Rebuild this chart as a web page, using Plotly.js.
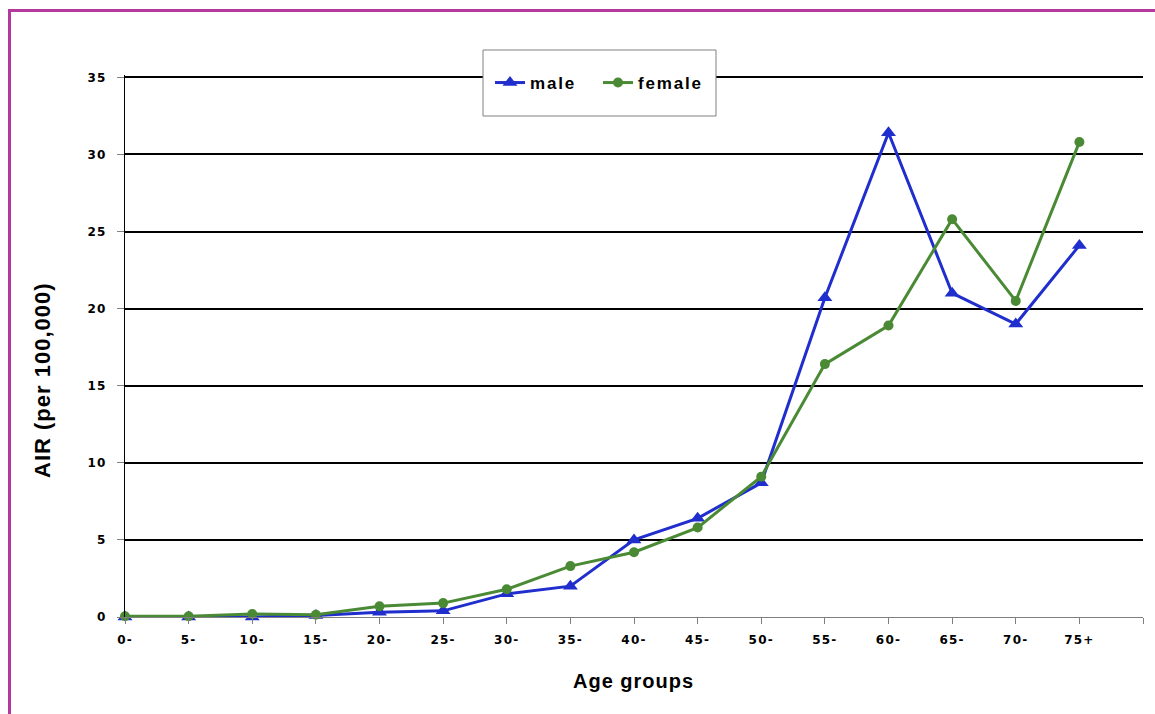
<!DOCTYPE html>
<html>
<head>
<meta charset="utf-8">
<script src="https://cdn.plot.ly/plotly-3.0.1.min.js"></script>
<style>
  html, body { margin: 0; padding: 0; background: #fff; }
  #wrap { position: relative; width: 1155px; height: 714px; overflow: hidden; }
  #chart { width: 1155px; height: 714px; }
  #frame { position: absolute; left: 8px; top: 9px; width: 1300px; height: 900px;
           border-left: 3px solid #b3399f; border-top: 3px solid #b3399f; pointer-events: none; }
  .legendtext { letter-spacing: 1.8px; }
  .xtick text, .ytick text { letter-spacing: 1.2px; }
  .annotation-text { letter-spacing: 1px; }
</style>
</head>
<body>
<div id="wrap">
  <div id="chart"></div>
  <div id="frame"></div>
</div>
<script>
// Data
var ageGroups = ["0-", "5-", "10-", "15-", "20-", "25-", "30-", "35-", "40-", "45-", "50-", "55-", "60-", "65-", "70-", "75+"];
var maleAIR   = [0, 0, 0, 0.1, 0.3, 0.4, 1.5, 2.0, 5.0, 6.4, 8.7, 20.7, 31.4, 21.0, 19.0, 24.1];
var femaleAIR = [0.05, 0.05, 0.2, 0.15, 0.7, 0.9, 1.8, 3.3, 4.2, 5.8, 9.1, 16.4, 18.9, 25.8, 20.5, 30.8];
var yTicks = [0, 5, 10, 15, 20, 25, 30, 35];

var idx = ageGroups.map(function (_, i) { return i; });
var tickVals = idx.concat([ageGroups.length]);
var tickText = ageGroups.concat([""]);

var blue = "#1f2ecc";
var green = "#4a8a35";

var traces = [
  {
    x: idx, y: maleAIR, name: "male", type: "scatter", mode: "lines+markers",
    line: { color: blue, width: 3 },
    marker: { symbol: "triangle-up", size: 13, color: blue },
    cliponaxis: false
  },
  {
    x: idx, y: femaleAIR, name: "female", type: "scatter", mode: "lines+markers",
    line: { color: green, width: 3 },
    marker: { symbol: "circle", size: 10, color: green },
    cliponaxis: false
  }
];

var W = 1155, H = 714;
var L = 125, R = 12, T = 75, B = 97;
var pw = W - L - R, ph = H - T - B;
function px2x(p) { return (p - L) / pw; }
function py2y(p) { return (H - B - p) / ph; }

var layout = {
  width: W, height: H,
  margin: { l: L, r: R, t: T, b: B, pad: 0 },
  paper_bgcolor: "#ffffff",
  plot_bgcolor: "#ffffff",
  font: { family: "DejaVu Sans, Verdana, sans-serif", color: "#000" },
  showlegend: true,
  legend: {
    orientation: "h",
    x: px2x(490), y: py2y(83), xanchor: "left", yanchor: "middle",
    bgcolor: "rgba(0,0,0,0)", borderwidth: 0,
    font: { family: "Liberation Sans, Arial, sans-serif", size: 17, weight: "bold", color: "#000" },
    entrywidth: 63, entrywidthmode: "pixels",
    traceorder: "normal"
  },
  xaxis: {
    type: "linear",
    range: [0, ageGroups.length],
    tickmode: "array", tickvals: tickVals, ticktext: tickText,
    showgrid: false, zeroline: false,
    showline: true, linecolor: "#808080", linewidth: 1,
    ticks: "outside", ticklen: 6, tickcolor: "#808080", tickwidth: 1,
    ticklabelstandoff: 6,
    tickfont: { family: "DejaVu Sans, Verdana, sans-serif", size: 12, weight: "bold", color: "#000" },
    fixedrange: true
  },
  yaxis: {
    range: [0, 35.15],
    tickmode: "array", tickvals: yTicks,
    showgrid: true, gridcolor: "#000000", gridwidth: 2,
    zeroline: false,
    showline: true, linecolor: "#000000", linewidth: 1,
    ticks: "outside", ticklen: 7, tickcolor: "#808080", tickwidth: 1,
    ticklabelstandoff: 8,
    tickfont: { family: "DejaVu Sans, Verdana, sans-serif", size: 12, weight: "bold", color: "#000" },
    fixedrange: true
  },
  shapes: [
    {
      type: "rect", xref: "paper", yref: "paper",
      x0: px2x(483), x1: px2x(716), y0: py2y(116), y1: py2y(50),
      fillcolor: "#ffffff", line: { color: "#808080", width: 1 }, layer: "above"
    }
  ],
  annotations: [
    {
      text: "Age groups", xref: "paper", yref: "paper",
      x: px2x(633), y: py2y(681), xanchor: "center", yanchor: "middle",
      showarrow: false,
      font: { family: "Liberation Sans, Arial, sans-serif", size: 20, weight: "bold", color: "#000" }
    },
    {
      text: "AIR (per 100,000)", xref: "paper", yref: "paper",
      x: px2x(42), y: py2y(380), xanchor: "center", yanchor: "middle",
      textangle: -90, showarrow: false,
      font: { family: "Liberation Sans, Arial, sans-serif", size: 22, weight: "bold", color: "#000" }
    }
  ]
};

Plotly.newPlot("chart", traces, layout, { displayModeBar: false, staticPlot: true });
</script>
</body>
</html>
